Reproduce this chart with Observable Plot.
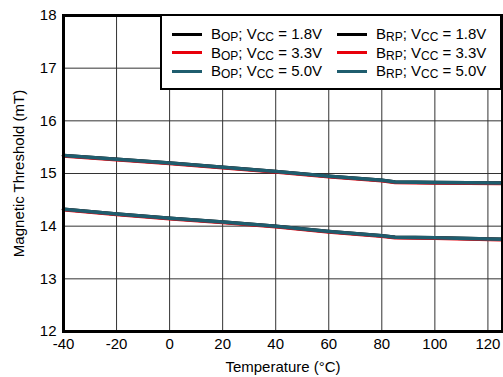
<!DOCTYPE html>
<html><head><meta charset="utf-8">
<script src="https://cdn.jsdelivr.net/npm/d3@7"></script>
<script src="https://cdn.jsdelivr.net/npm/@observablehq/plot@0.6"></script>
<style>
html,body{margin:0;padding:0;background:#fff;}
body{font-family:"Liberation Sans",Arial,sans-serif;}
#wrap{position:relative;width:503px;height:377px;overflow:hidden;}
#legend{position:absolute;left:160px;top:14px;width:338px;height:72px;border:2px solid #000;background:#fff;font-size:15px;color:#000;}
.item{position:absolute;white-space:nowrap;line-height:16px;height:16px;}
.sw{position:absolute;left:0;top:6.5px;width:30px;height:3px;}
.txt{position:absolute;left:39px;top:0;}
.sb{font-size:12px;position:relative;top:2px;}
</style>
</head><body>
<div id="wrap"><div id="chart"></div><div id="legend"></div></div>
<script>
// Temperature (°C)
const temps = [-40, -20, 0, 20, 40, 60, 80, 85, 100, 125];
// B_OP (mT)
const bop18 = [15.34, 15.27, 15.20, 15.12, 15.04, 14.95, 14.87, 14.84, 14.83, 14.82];
const bop33 = [15.33, 15.26, 15.19, 15.11, 15.03, 14.94, 14.86, 14.83, 14.82, 14.81];
const bop50 = [15.34, 15.27, 15.20, 15.12, 15.04, 14.95, 14.87, 14.84, 14.83, 14.82];
// B_RP (mT)
const brp18 = [14.32, 14.23, 14.15, 14.08, 14.00, 13.90, 13.82, 13.79, 13.78, 13.75];
const brp33 = [14.31, 14.22, 14.14, 14.07, 13.99, 13.89, 13.81, 13.78, 13.77, 13.74];
const brp50 = [14.32, 14.23, 14.15, 14.08, 14.00, 13.90, 13.82, 13.79, 13.78, 13.75];

const xTicks = [-40, -20, 0, 20, 40, 60, 80, 100, 120];
const yTicks = [12, 13, 14, 15, 16, 17, 18];

const seriesNames = ["BOP 1.8V", "BOP 3.3V", "BOP 5.0V", "BRP 1.8V", "BRP 3.3V", "BRP 5.0V"];
const seriesValues = [bop18, bop33, bop50, brp18, brp33, brp50];
const seriesColors = ["#000000", "#e8000b", "#1f5d6e", "#000000", "#e8000b", "#1f5d6e"];
// draw order: black, red, teal
const order = [0, 3, 1, 4, 2, 5];

const rows = seriesValues.flatMap((vals, i) => temps.map((t, j) => ({series: seriesNames[i], t, v: vals[j]})));

const lineMarks = order.map(i => Plot.line(rows.filter(d => d.series === seriesNames[i]), {
  x: "t", y: "v", stroke: seriesColors[i], strokeWidth: 3.5, curve: "linear"
}));

const fmt = d => String(d);

const chart = Plot.plot({
  width: 503, height: 377,
  marginLeft: 63, marginRight: 1, marginTop: 15, marginBottom: 46,
  style: {fontFamily: '"Liberation Sans", Arial, sans-serif', fontSize: "15px", background: "#fff", color: "#000"},
  x: {domain: [-40, 125.5]},
  y: {domain: [12, 18]},
  marks: [
    Plot.gridX(xTicks, {stroke: "#333", strokeOpacity: 1, strokeWidth: 1}),
    Plot.gridY(yTicks, {stroke: "#333", strokeOpacity: 1, strokeWidth: 1}),
    ...lineMarks,
    Plot.axisX(xTicks, {tickSize: 0, tickPadding: 7, fontSize: 15, tickFormat: fmt, label: "Temperature (°C)", labelAnchor: "center", labelOffset: 40, labelArrow: "none"}),
    Plot.axisY(yTicks, {tickSize: 0, tickPadding: 7, fontSize: 15, tickFormat: fmt, label: "Magnetic Threshold (mT)", labelAnchor: "center", labelOffset: 50, labelArrow: "none"}),
    Plot.frame({stroke: "#000", strokeWidth: 3})
  ]
});
document.getElementById("chart").appendChild(chart);

// Legend
const legendItems = [
  {sym: "B", sub1: "OP", volt: "1.8V", color: seriesColors[0], col: 0, row: 0},
  {sym: "B", sub1: "OP", volt: "3.3V", color: seriesColors[1], col: 0, row: 1},
  {sym: "B", sub1: "OP", volt: "5.0V", color: seriesColors[2], col: 0, row: 2},
  {sym: "B", sub1: "RP", volt: "1.8V", color: seriesColors[3], col: 1, row: 0},
  {sym: "B", sub1: "RP", volt: "3.3V", color: seriesColors[4], col: 1, row: 1},
  {sym: "B", sub1: "RP", volt: "5.0V", color: seriesColors[5], col: 1, row: 2}
];
const leg = document.getElementById("legend");
legendItems.forEach(it => {
  const d = document.createElement("div");
  d.className = "item";
  d.style.left = (it.col === 0 ? 10 : 175) + "px";
  d.style.top = (10 + it.row * 18.5) + "px";
  d.innerHTML = `<span class="sw" style="background:${it.color}"></span><span class="txt">${it.sym}<span class="sb">${it.sub1}</span>; V<span class="sb">CC</span> = ${it.volt}</span>`;
  leg.appendChild(d);
});
</script>
</body></html>
